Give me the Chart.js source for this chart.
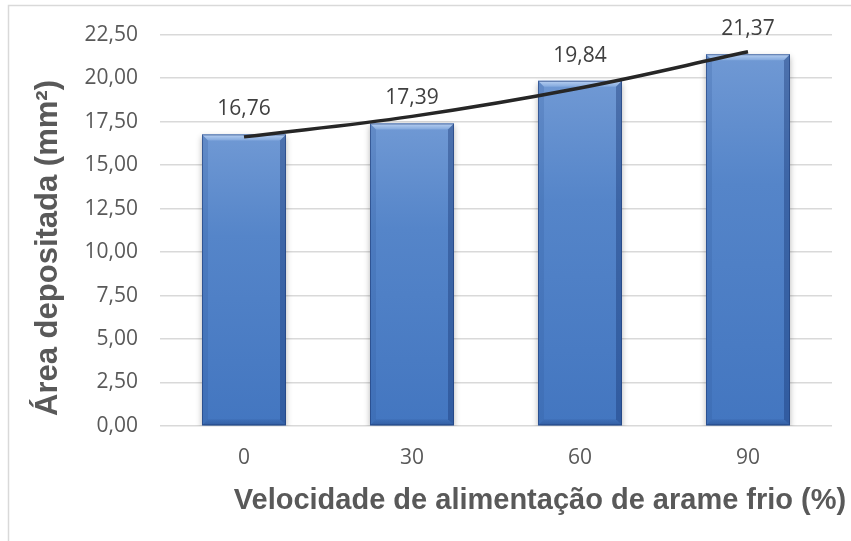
<!DOCTYPE html>
<html>
<head>
<meta charset="utf-8">
<script src="https://cdn.jsdelivr.net/npm/chart.js@4.4.1/dist/chart.umd.min.js"></script>
<style>
  html, body { margin: 0; padding: 0; background: #fff; }
  #wrap { width: 851px; height: 541px; position: relative; }
</style>
</head>
<body>
<div id="wrap"><canvas id="grafico"></canvas></div>
<script>
// dados do gráfico
const velocidades = ['0', '30', '60', '90'];
const areas = [16.76, 17.39, 19.84, 21.37];
// linha de tendência (polinomial) lida em cada categoria
const tendencia = [16.62, 17.80, 19.43, 21.51];
const yTicks = [0, 2.5, 5, 7.5, 10, 12.5, 15, 17.5, 20, 22.5];

const tituloX = 'Velocidade de alimentação de arame frio (%)';
const tituloY = 'Área depositada (mm²)';

const virgula = v => v.toFixed(2).replace('.', ',');

// fundo branco + moldura clara
const fundo = {
    id: 'fundo',
    beforeDraw(chart) {
        const ctx = chart.ctx;
        ctx.save();
        ctx.fillStyle = '#fff';
        ctx.fillRect(0, 0, chart.width, chart.height);
        ctx.strokeStyle = '#d9d9d9';
        ctx.lineWidth = 1.5;
        ctx.strokeRect(8.5, 5.5, 1000, 1000);
        ctx.restore();
    }
};

// sombra e efeito de chanfro nas barras
const chanfro = {
    id: 'chanfro',
    beforeDatasetDraw(chart, args) {
        if (args.meta.type !== 'bar') return;
        const ctx = chart.ctx;
        ctx.save();
        ctx.shadowColor = 'rgba(0,0,0,0.30)';
        ctx.shadowBlur = 6;
        ctx.shadowOffsetX = 0;
        ctx.shadowOffsetY = 3;
    },
    afterDatasetDraw(chart, args) {
        if (args.meta.type !== 'bar') return;
        const ctx = chart.ctx;
        ctx.restore();
        ctx.save();
        args.meta.data.forEach(bar => {
            const p = bar.getProps(['x', 'y', 'base', 'width'], true);
            const l = p.x - p.width / 2, r = p.x + p.width / 2;
            const t = p.y, b = p.base;
            const g = ctx.createLinearGradient(0, t, 0, b);
            g.addColorStop(0, '#7099d4');
            g.addColorStop(0.35, '#5585c9');
            g.addColorStop(1, '#4376c0');
            ctx.fillStyle = g;
            ctx.fillRect(l, t, r - l, b - t);

            const s = 6;
            // topo claro
            const gt = ctx.createLinearGradient(0, t, 0, t + s);
            gt.addColorStop(0, '#b9d1f2');
            gt.addColorStop(1, '#82a8dd');
            ctx.fillStyle = gt;
            ctx.beginPath();
            ctx.moveTo(l, t); ctx.lineTo(r, t); ctx.lineTo(r - s, t + s); ctx.lineTo(l + s, t + s);
            ctx.closePath(); ctx.fill();
            // lateral esquerda
            ctx.fillStyle = 'rgba(45,85,150,0.20)';
            ctx.beginPath();
            ctx.moveTo(l, t); ctx.lineTo(l + s, t + s); ctx.lineTo(l + s, b - s); ctx.lineTo(l, b);
            ctx.closePath(); ctx.fill();
            // lateral direita
            ctx.fillStyle = 'rgba(20,50,110,0.38)';
            ctx.beginPath();
            ctx.moveTo(r, t); ctx.lineTo(r - s, t + s); ctx.lineTo(r - s, b - s); ctx.lineTo(r, b);
            ctx.closePath(); ctx.fill();
            // base escura (suave)
            const gb = ctx.createLinearGradient(0, b - s, 0, b);
            gb.addColorStop(0, 'rgba(20,50,110,0.10)');
            gb.addColorStop(1, 'rgba(20,50,110,0.35)');
            ctx.fillStyle = gb;
            ctx.beginPath();
            ctx.moveTo(l, b); ctx.lineTo(l + s, b - s); ctx.lineTo(r - s, b - s); ctx.lineTo(r, b);
            ctx.closePath(); ctx.fill();
            // contorno fino
            ctx.strokeStyle = 'rgba(30,60,120,0.6)';
            ctx.lineWidth = 1;
            ctx.strokeRect(l + 0.5, t + 0.5, r - l - 1, b - t - 1);
        });
        ctx.restore();
    }
};

// rótulos de valor acima das barras e títulos dos eixos
const rotulos = {
    id: 'rotulos',
    afterDatasetsDraw(chart) {
        const ctx = chart.ctx;
        const meta = chart.getDatasetMeta(1);
        ctx.save();
        ctx.font = '21px "Open Sans"';
        ctx.fillStyle = '#404040';
        ctx.textAlign = 'center';
        ctx.textBaseline = 'middle';
        meta.data.forEach((bar, i) => {
            ctx.fillText(virgula(areas[i]), bar.x, bar.y - 25);
        });

        ctx.fillStyle = '#595959';
        ctx.font = 'bold 29px "Liberation Sans", Arial, sans-serif';
        ctx.textBaseline = 'alphabetic';
        ctx.fillText(tituloX, 540, 509);

        ctx.font = 'bold 31px "Liberation Sans", Arial, sans-serif';
        ctx.translate(57, 248);
        ctx.rotate(-Math.PI / 2);
        ctx.fillText(tituloY, 0, 0);
        ctx.restore();
    }
};

new Chart(document.getElementById('grafico'), {
    type: 'bar',
    data: {
        labels: velocidades,
        datasets: [
            {
                type: 'line',
                label: 'Tendência',
                data: tendencia,
                borderColor: '#262626',
                borderWidth: 3.5,
                pointRadius: 0,
                tension: 0.4,
                fill: false,
                order: 0
            },
            {
                label: 'Área depositada',
                data: areas,
                backgroundColor: '#4f81c7',
                borderWidth: 0,
                barPercentage: 0.5,
                categoryPercentage: 1,
                order: 1
            }
        ]
    },
    options: {
        responsive: true,
        maintainAspectRatio: false,
        animation: false,
        layout: { padding: { left: 10, top: 34, right: 19, bottom: 0 } },
        plugins: {
            legend: { display: false },
            tooltip: { enabled: false }
        },
        scales: {
            x: {
                grid: { display: false, drawTicks: false },
                border: { display: false },
                ticks: { color: '#595959', font: { family: 'Open Sans', size: 21 }, padding: 19 },
                afterFit: s => { s.height = 115; }
            },
            y: {
                min: 0,
                max: 22.5,
                afterBuildTicks: s => { s.ticks = yTicks.map(v => ({ value: v })); },
                grid: { color: '#d9d9d9', lineWidth: 1.5, drawTicks: false },
                border: { display: false },
                ticks: {
                    color: '#595959',
                    font: { family: 'Open Sans', size: 21 },
                    padding: 22,
                    callback: v => virgula(v)
                },
                afterFit: s => { s.width = 150; }
            }
        }
    },
    plugins: [fundo, chanfro, rotulos]
});
</script>
</body>
</html>
